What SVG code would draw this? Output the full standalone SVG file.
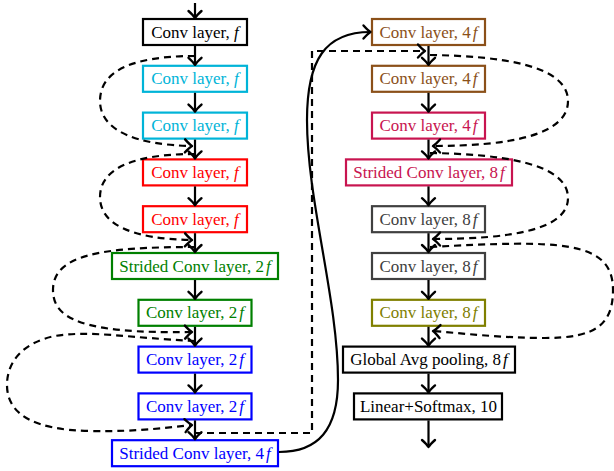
<svg xmlns="http://www.w3.org/2000/svg" width="614" height="471" viewBox="0 0 614 471">
<style>
  .box { fill: #fff; stroke-width: 2.2; }
  .k { stroke: #000; fill: #000; }
  .cy { stroke: #00b4d8; fill: #00b4d8; }
  .rd { stroke: #ff0000; fill: #ff0000; }
  .gn { stroke: #008000; fill: #008000; }
  .bl { stroke: #0000ff; fill: #0000ff; }
  .br { stroke: #8b5019; fill: #8b5019; }
  .cr { stroke: #c81450; fill: #c81450; }
  .gy { stroke: #404040; fill: #404040; }
  .ol { stroke: #808000; fill: #808000; }
  rect.box { fill: #fff; }
  text.lbl { font-family: "Liberation Serif", "Times New Roman", serif; font-size: 17px; text-anchor: middle; stroke: none; }
  .it { font-style: italic; }
  .flow { fill: none; stroke: #000; stroke-width: 2.2; }
  .skip { fill: none; stroke: #000; stroke-width: 2.2; stroke-dasharray: 7 5; }
</style>
<defs>
  <marker id="arr" markerUnits="userSpaceOnUse" viewBox="-10 -9 12 18" markerWidth="12" markerHeight="18" refX="0" refY="0" orient="auto" overflow="visible">
    <path d="M-7,-6.5 Q-2.5,-1.5 0,0 Q-2.5,1.5 -7,6.5" fill="none" stroke="#000" stroke-width="2.4" stroke-linecap="round" stroke-linejoin="round" stroke-dasharray="none"/>
  </marker>
</defs>

<!-- Left column nodes -->
<g id="L0"><rect class="box k" x="143" y="19" width="104" height="26"/><text class="lbl k" x="195" y="37.5">Conv layer, <tspan class="it">f</tspan></text></g>
<g id="L1"><rect class="box cy" x="143" y="65.8" width="104" height="26"/><text class="lbl cy" x="195" y="84.3">Conv layer, <tspan class="it">f</tspan></text></g>
<g id="L2"><rect class="box cy" x="143" y="112.6" width="104" height="26"/><text class="lbl cy" x="195" y="131.1">Conv layer, <tspan class="it">f</tspan></text></g>
<g id="L3"><rect class="box rd" x="143" y="159.4" width="104" height="26"/><text class="lbl rd" x="195" y="177.9">Conv layer, <tspan class="it">f</tspan></text></g>
<g id="L4"><rect class="box rd" x="143" y="206.2" width="104" height="26"/><text class="lbl rd" x="195" y="224.7">Conv layer, <tspan class="it">f</tspan></text></g>
<g id="L5"><rect class="box gn" x="112" y="253" width="166" height="26"/><text class="lbl gn" x="195" y="271.5">Strided Conv layer, 2<tspan class="it" dx="2">f</tspan></text></g>
<g id="L6"><rect class="box gn" x="138.5" y="299.8" width="113" height="26"/><text class="lbl gn" x="195" y="318.3">Conv layer, 2<tspan class="it" dx="2">f</tspan></text></g>
<g id="L7"><rect class="box bl" x="138.5" y="346.6" width="113" height="26"/><text class="lbl bl" x="195" y="365.1">Conv layer, 2<tspan class="it" dx="2">f</tspan></text></g>
<g id="L8"><rect class="box bl" x="138.5" y="393.4" width="113" height="26"/><text class="lbl bl" x="195" y="411.9">Conv layer, 2<tspan class="it" dx="2">f</tspan></text></g>
<g id="L9"><rect class="box bl" x="112" y="440.2" width="166" height="26"/><text class="lbl bl" x="195" y="458.7">Strided Conv layer, 4<tspan class="it" dx="2">f</tspan></text></g>

<!-- Right column nodes -->
<g id="R0"><rect class="box br" x="372" y="19" width="113" height="26"/><text class="lbl br" x="428.5" y="37.5">Conv layer, 4<tspan class="it" dx="2">f</tspan></text></g>
<g id="R1"><rect class="box br" x="372" y="65.8" width="113" height="26"/><text class="lbl br" x="428.5" y="84.3">Conv layer, 4<tspan class="it" dx="2">f</tspan></text></g>
<g id="R2"><rect class="box cr" x="372" y="112.6" width="113" height="26"/><text class="lbl cr" x="428.5" y="131.1">Conv layer, 4<tspan class="it" dx="2">f</tspan></text></g>
<g id="R3"><rect class="box cr" x="346" y="159.4" width="166" height="26"/><text class="lbl cr" x="429" y="177.9">Strided Conv layer, 8<tspan class="it" dx="2">f</tspan></text></g>
<g id="R4"><rect class="box gy" x="372" y="206.2" width="113" height="26"/><text class="lbl gy" x="428.5" y="224.7">Conv layer, 8<tspan class="it" dx="2">f</tspan></text></g>
<g id="R5"><rect class="box gy" x="372" y="253" width="113" height="26"/><text class="lbl gy" x="428.5" y="271.5">Conv layer, 8<tspan class="it" dx="2">f</tspan></text></g>
<g id="R6"><rect class="box ol" x="372" y="299.8" width="113" height="26"/><text class="lbl ol" x="428.5" y="318.3">Conv layer, 8<tspan class="it" dx="2">f</tspan></text></g>
<g id="R7"><rect class="box k" x="343" y="346.6" width="172" height="26"/><text class="lbl k" x="429" y="365.1">Global Avg pooling, 8<tspan class="it" dx="2">f</tspan></text></g>
<g id="R8"><rect class="box k" x="354" y="393.4" width="148" height="26"/><text class="lbl k" x="428.5" y="411.9">Linear+Softmax, 10</text></g>

<!-- Connectors -->
<g id="connectors">
  <!-- left main flow -->
  <path class="flow" marker-end="url(#arr)" d="M195,3 V18"/>
  <path class="flow" marker-end="url(#arr)" d="M195,46 V64.8"/>
  <path class="flow" marker-end="url(#arr)" d="M195,92.8 V111.6"/>
  <path class="flow" marker-end="url(#arr)" d="M195,139.6 V158.4"/>
  <path class="flow" marker-end="url(#arr)" d="M195,186.4 V205.2"/>
  <path class="flow" marker-end="url(#arr)" d="M195,233.2 V252"/>
  <path class="flow" marker-end="url(#arr)" d="M195,280 V298.8"/>
  <path class="flow" marker-end="url(#arr)" d="M195,326.8 V345.6"/>
  <path class="flow" marker-end="url(#arr)" d="M195,373.6 V392.4"/>
  <path class="flow" marker-end="url(#arr)" d="M195,420.4 V439.2"/>
  <!-- right main flow -->
  <path class="flow" marker-end="url(#arr)" d="M428.5,46 V64.8"/>
  <path class="flow" marker-end="url(#arr)" d="M428.5,92.8 V111.6"/>
  <path class="flow" marker-end="url(#arr)" d="M428.5,139.6 V158.4"/>
  <path class="flow" marker-end="url(#arr)" d="M428.5,186.4 V205.2"/>
  <path class="flow" marker-end="url(#arr)" d="M428.5,233.2 V252"/>
  <path class="flow" marker-end="url(#arr)" d="M428.5,280 V298.8"/>
  <path class="flow" marker-end="url(#arr)" d="M428.5,326.8 V345.6"/>
  <path class="flow" marker-end="url(#arr)" d="M428.5,373.6 V392.4"/>
  <path class="flow" marker-end="url(#arr)" d="M428.5,420.4 V447"/>
  <!-- column jump -->
  <path class="flow" marker-end="url(#arr)" d="M279,452 C318,452 338,430 338,380 C338,300 307,200 307,120 C307,60 325,32 370.5,32"/>
  <!-- left skip connections -->
  <path class="skip" marker-end="url(#arr)" d="M195,56 C130,56 100,72 100,101 C100,130 135,145 192,146"/>
  <path class="skip" marker-end="url(#arr)" d="M195,154 C130,154 100,170 100,197 C100,226 135,239 192,240"/>
  <path class="skip" marker-end="url(#arr)" d="M195,247 C100,247 53,255 53,290 C53,318 80,334 192,332"/>
  <path class="skip" marker-end="url(#arr)" d="M195,341 C130,338 90,330 55,336 C25,342 7,360 7,385 C7,415 35,430 90,431 C140,432 170,427 192,425"/>
  <path class="skip" marker-end="url(#arr)" d="M195,433 H312 V51 H425"/>
  <!-- right skip connections -->
  <path class="skip" marker-end="url(#arr)" d="M430,55 C500,56 568,65 568,101 C568,135 510,146 433,146"/>
  <path class="skip" marker-end="url(#arr)" d="M430,153 C500,154 568,163 568,198 C568,230 510,239 433,239"/>
  <path class="skip" marker-end="url(#arr)" d="M430,247 C560,240 613,240 613,290 C613,325 595,338 545,338 C500,338 460,333 433,331"/>
</g>
</svg>
